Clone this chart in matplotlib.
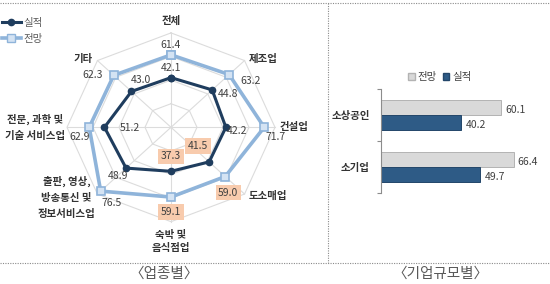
import numpy as np
import matplotlib
matplotlib.use("Agg")
import matplotlib.pyplot as plt
from matplotlib.lines import Line2D
from matplotlib.patches import Patch

plt.rcParams['font.family'] = ['Noto Sans CJK KR', 'DejaVu Sans']

# ---------------- data ----------------
categories = ['전체', '제조업', '건설업', '도소매업', '숙박 및\n음식점업',
              '출판, 영상,\n방송통신 및\n정보서비스업', '전문, 과학 및\n기술 서비스업', '기타']
actual = [42.1, 44.8, 42.2, 41.5, 37.3, 48.9, 51.2, 43.0]      # 실적
forecast = [61.4, 63.2, 71.7, 59.0, 59.1, 76.5, 62.9, 62.3]    # 전망
grid_levels = [20, 40, 60, 80]

size_cats = ['소상공인', '소기업']
size_forecast = [60.1, 66.4]
size_actual = [40.2, 49.7]

# ---------------- styles ----------------
C_ACT = '#1f3d5e'
C_FC = '#8fb4da'
C_FC_FACE = '#d4e3f3'
C_BOX = '#f8cbad'
C_TXT = '#404040'
C_BAR_ACT = '#2e5b86'
C_BAR_FC = '#d9d9d9'

W, H = 550, 284
fig = plt.figure(figsize=(W / 100, H / 100), dpi=100)

# ---------------- radar (cartesian, non-square scaling) ----------------
sx, sy = 1.30, 1.18        # px per unit
cx, cy = 171, 127.3        # centre in px (from top)
ax_l, ax_r, ax_top, ax_bot = 0, 328, 0, 264
ax = fig.add_axes([ax_l / W, (H - ax_bot) / H, (ax_r - ax_l) / W, (ax_bot - ax_top) / H])
ax.set_xlim((ax_l - cx) / sx, (ax_r - cx) / sx)
ax.set_ylim((cy - ax_bot) / sy, (cy - ax_top) / sy)
ax.axis('off')

n = len(categories)
theta = np.arange(n) * 2 * np.pi / n
sx_u, cy_u = np.sin(theta), np.cos(theta)

def xy(vals):
    v = np.asarray(vals)
    return np.append(v * sx_u, v[0] * sx_u[0]), np.append(v * cy_u, v[0] * cy_u[0])

for lv in grid_levels:
    gx, gy = xy([lv] * n)
    ax.plot(gx, gy, color='#dcdcdc', lw=0.8, zorder=1)
for i in range(n):
    ax.plot([0, grid_levels[-1] * sx_u[i]], [0, grid_levels[-1] * cy_u[i]],
            color='#dcdcdc', lw=0.8, zorder=1)

fx, fy = xy(forecast)
ax.plot(fx, fy, color=C_FC, lw=2.6, marker='s', ms=5.5, mfc=C_FC_FACE, mec=C_FC, mew=1.2, zorder=3)
axx, axy = xy(actual)
ax.plot(axx, axy, color=C_ACT, lw=2.2, marker='o', ms=4.5, mfc=C_ACT, mec=C_ACT, zorder=4)

act_off = [(0, 9.5), (16, -4), (11, -4), (-11, 16), (0, 15), (-8, -8), (25, -1), (9, 11)]
fc_off = [(0, 9.5), (21, -6), (11, -10), (3, -16), (0, -15), (11, -12), (-10, -10), (-21, 0)]
act_box = [False, False, False, True, True, False, False, False]
fc_box = [False, False, False, True, True, False, False, False]

def label_points(vals, offs, boxes):
    for i, v in enumerate(vals):
        bb = dict(boxstyle='square,pad=0.25', fc=C_BOX, ec='none') if boxes[i] else None
        ax.annotate(f'{v:.1f}', (v * sx_u[i], v * cy_u[i]), xytext=offs[i],
                    textcoords='offset pixels', ha='center', va='center',
                    fontsize=7.5, color=C_TXT, bbox=bb, zorder=6)

label_points(actual, act_off, act_box)
label_points(forecast, fc_off, fc_box)

cat_off = [(0, 12), (19, 1.5), (19, 0), (23.5, -1.5), (0, -20), (-31, -3.5), (-32, 0), (-14.5, 2)]
cat_ls = [1.25, 1.25, 1.25, 1.25, 1.4, 1.75, 1.7, 1.25]
for i, c in enumerate(categories):
    r = grid_levels[-1]
    ax.annotate(c, (r * sx_u[i], r * cy_u[i]), xytext=cat_off[i], textcoords='offset pixels',
                ha='center', va='center', fontsize=7.5, fontweight='bold', color='#333333',
                linespacing=cat_ls[i], zorder=6)

h_act = Line2D([], [], color=C_ACT, lw=2.2, marker='o', ms=4.5, mfc=C_ACT, mec=C_ACT)
h_fc = Line2D([], [], color=C_FC, lw=2.6, marker='s', ms=5.5, mfc=C_FC_FACE, mec=C_FC)
fig.legend([h_act, h_fc], ['실적', '전망'], loc='upper left',
           bbox_to_anchor=(2 / W, 1 - 18 / H), frameon=False, fontsize=7.5,
           handlelength=1.8, handletextpad=0.3, labelspacing=0.55, labelcolor='#595959',
           borderaxespad=0, borderpad=0)

# ---------------- horizontal bars ----------------
bl, br, bt, bb_ = 381, 541, 89.3, 193.3
bax = fig.add_axes([bl / W, (H - bb_) / H, (br - bl) / W, (bb_ - bt) / H])
bax.set_xlim(0, 80)
ypos = np.arange(len(size_cats))
bh = 15 / 52
bax.barh(ypos - bh / 2, size_forecast, height=bh, color=C_BAR_FC, edgecolor='#b3b3b3', lw=0.7)
bax.barh(ypos + bh / 2, size_actual, height=bh, color=C_BAR_ACT, edgecolor='#23466a', lw=0.7)
bax.set_ylim(len(size_cats) - 0.5, -0.5)
for sp in ['top', 'right', 'bottom']:
    bax.spines[sp].set_visible(False)
bax.spines['left'].set_color('#8c8c8c')
bax.spines['left'].set_linewidth(0.8)
bax.set_xticks([])
bax.set_yticks(ypos)
bax.set_yticklabels(size_cats, fontsize=7.5, fontweight='bold', color='#333333')
bax.tick_params(axis='y', which='major', length=0, pad=8)
bax.set_yticks([-0.5, 0.5, 1.5], minor=True)
bax.tick_params(axis='y', which='minor', length=3, width=0.8, color='#8c8c8c')
for i in range(len(size_cats)):
    bax.annotate(f'{size_forecast[i]:.1f}', (size_forecast[i], i - bh / 2), xytext=(4, -2),
                 textcoords='offset pixels', ha='left', va='center', fontsize=7.5, color=C_TXT)
    bax.annotate(f'{size_actual[i]:.1f}', (size_actual[i], i + bh / 2), xytext=(4, -2),
                 textcoords='offset pixels', ha='left', va='center', fontsize=7.5, color=C_TXT)

fig.legend([Patch(fc=C_BAR_FC, ec='#b3b3b3'), Patch(fc=C_BAR_ACT, ec='#23466a')], ['전망', '실적'],
           loc='center', bbox_to_anchor=(440 / W, 1 - 77 / H), ncol=2, frameon=False,
           fontsize=7.5, handlelength=0.6, handleheight=0.6, handletextpad=0.3,
           columnspacing=0.6, labelcolor='#404040', borderpad=0)

# ---------------- frame lines & captions ----------------
dot = dict(color='#8a8a8a', lw=0.8, linestyle=(0, (1, 1.2)))
fig.add_artist(Line2D([0, 1], [1 - 3 / H, 1 - 3 / H], transform=fig.transFigure, **dot))
fig.add_artist(Line2D([0, 1], [1 - 263 / H, 1 - 263 / H], transform=fig.transFigure, **dot))
fig.add_artist(Line2D([328 / W, 328 / W], [1 - 3 / H, 1 - 263 / H], transform=fig.transFigure, **dot))

fig.text(164 / W, 1 - 274 / H, '〈업종별〉', ha='center', va='center', fontsize=10.5, color='#595959')
fig.text(440 / W, 1 - 274 / H, '〈기업규모별〉', ha='center', va='center', fontsize=10.5, color='#595959')

fig.savefig('out.png', dpi=100)
